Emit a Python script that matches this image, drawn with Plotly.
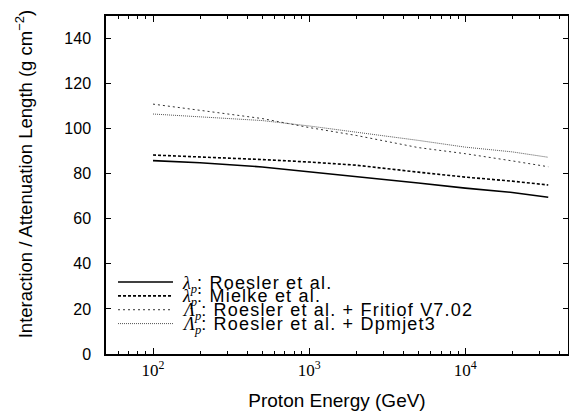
import plotly.graph_objects as go

energy = [100, 200, 500, 1000, 2000, 5000, 10000, 20000, 34000]
lam_roesler = [85.8, 84.9, 83.0, 80.9, 79.0, 75.9, 73.6, 71.7, 69.6]
lam_mielke = [88.3, 87.5, 86.3, 85.2, 83.8, 80.7, 78.5, 76.7, 75.0]
att_fritiof = [110.9, 108.0, 104.5, 100.5, 97.0, 91.6, 88.9, 85.7, 83.1]
att_dpmjet = [106.5, 105.3, 103.6, 101.2, 98.5, 94.8, 91.8, 89.7, 87.3]

legend_symbols = ["λ", "λ", "Λ", "Λ"]
legend_texts = [": Roesler et al.", ": Mielke et al.",
                ": Roesler et al. + Fritiof V7.02", ": Roesler et al. + Dpmjet3"]
x_tickvals = [100, 1000, 10000]
x_ticktext = ["10<sup>2</sup>", "10<sup>3</sup>", "10<sup>4</sup>"]
x_minor = [60, 70, 80, 90, 200, 300, 400, 500, 600, 700, 800, 900,
           2000, 3000, 4000, 5000, 6000, 7000, 8000, 9000, 20000, 30000, 40000]

styles = [
    dict(color="black", width=1.6, dash="solid"),
    dict(color="black", width=1.6, dash="3px,2px"),
    dict(color="#333333", width=1.0, dash="2px,3px"),
    dict(color="#555555", width=1.0, dash="1px,1px"),
]
series = [lam_roesler, lam_mielke, att_fritiof, att_dpmjet]

fig = go.Figure()
for ys, st, sym, txt in zip(series, styles, legend_symbols, legend_texts):
    fig.add_trace(go.Scatter(x=energy, y=ys, mode="lines", line=st, name=sym + txt,
                             showlegend=False))

# manual compact legend
leg_y = [0.213, 0.172, 0.131, 0.090]
for yy, st, sym, txt in zip(leg_y, styles, legend_symbols, legend_texts):
    fig.add_shape(type="line", xref="paper", yref="paper", x0=0.026, x1=0.145,
                  y0=yy, y1=yy, line=st)
    label = ("<span style='font-family:Liberation Serif'><i>" + sym +
             "</i><sub><i>p</i></sub></span>"
             "<span style='letter-spacing:1.2px'>" + txt + "</span>")
    fig.add_annotation(xref="paper", yref="paper", x=0.160, y=yy, text=label,
                       showarrow=False, xanchor="left", yanchor="middle", yshift=-2,
                       font=dict(family="Liberation Sans", size=18, color="black"))

# y-axis title placed as rotated annotation
fig.add_annotation(xref="paper", yref="paper", x=-0.178, y=0.531,
                   text="Interaction / Attenuation Length (g cm<sup>−2</sup>)",
                   textangle=-90, showarrow=False, xanchor="center", yanchor="middle",
                   font=dict(family="Liberation Sans", size=18.5, color="black"))

axis_common = dict(showline=True, linecolor="black", linewidth=1.5, mirror="allticks",
                   ticks="inside", tickcolor="black", showgrid=False, zeroline=False,
                   automargin=False)

# page body has an 8px margin, so the figure is sized/margined to compensate
fig.update_layout(
    width=569, height=409,
    margin=dict(l=98, r=9, t=8, b=63),
    paper_bgcolor="white", plot_bgcolor="white",
    font=dict(family="Liberation Sans", size=17, color="black"),
    xaxis=dict(type="log", range=[1.699, 4.658], tickmode="array",
               tickvals=x_tickvals, ticktext=x_ticktext, ticklen=6,
               tickfont=dict(family="Liberation Serif", size=17),
               minor=dict(tickmode="array", tickvals=x_minor, ticks="inside",
                          ticklen=3, tickcolor="black"),
               title=dict(text="Proton Energy (GeV)", font=dict(size=19)),
               **axis_common),
    yaxis=dict(range=[0, 150], tickmode="array", tickvals=list(range(0, 141, 20)),
               ticklen=5, tickfont=dict(size=16), ticklabelstandoff=10,
               **axis_common),
)

fig.write_html("out.html")
